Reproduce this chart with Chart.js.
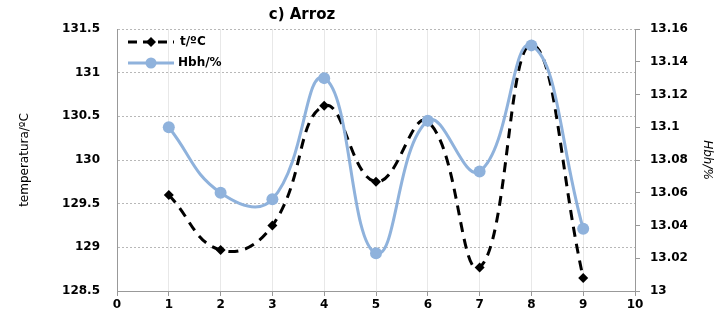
<!DOCTYPE html>
<html>
<head>
<meta charset="utf-8">
<script src="https://cdn.jsdelivr.net/npm/chart.js@4/dist/chart.umd.min.js"></script>
<style>
  html, body { margin: 0; padding: 0; background: #fff; }
  #wrap { width: 722px; height: 325px; }
</style>
</head>
<body>
<div id="wrap"><canvas id="myChart" width="722" height="325"></canvas></div>
<script>
  // sample numbers along the x axis
  var samples = [1, 2, 3, 4, 5, 6, 7, 8, 9];
  // temperature, left axis
  var tempValues = [129.6, 128.97, 129.25, 130.62, 129.75, 130.44, 128.77, 131.32, 128.65];
  // moisture, right axis
  var hbhValues = [13.100, 13.060, 13.056, 13.130, 13.023, 13.104, 13.073, 13.150, 13.038];

  var seriesNames = ["t/ºC", "Hbh/%"];
  var titleText = "c) Arroz";
  var blue = "#8fb2dc";
  var tickFont = { family: "DejaVu Sans", size: 12, weight: "bold" };

  function toPoints(xs, ys) {
    return xs.map(function (x, i) { return { x: x, y: ys[i] }; });
  }

  // excel style labels: 131 not 131.0, 13.1 not 13.10
  function plainNumber(value) {
    return String(parseFloat(value.toFixed(4)));
  }

  // title and in-plot legend, drawn the way the spreadsheet had them
  var decorPlugin = {
    id: "decor",
    afterDraw: function (chart) {
      var ctx = chart.ctx;
      var area = chart.chartArea;
      ctx.save();
      ctx.fillStyle = "#000";
      ctx.font = "bold 15px 'DejaVu Sans'";
      ctx.textAlign = "center";
      ctx.textBaseline = "middle";
      ctx.fillText(titleText, area.left + 185, 15);

      ctx.font = "bold 12px 'DejaVu Sans'";
      ctx.textAlign = "left";
      var lx = area.left + 11, ly = area.top + 13;
      // t/ºC sample
      ctx.strokeStyle = "#000";
      ctx.lineWidth = 3;
      ctx.setLineDash([9, 6]);
      ctx.beginPath();
      ctx.moveTo(lx, ly);
      ctx.lineTo(lx + 46, ly);
      ctx.stroke();
      ctx.setLineDash([]);
      ctx.beginPath();
      ctx.moveTo(lx + 23, ly - 5);
      ctx.lineTo(lx + 28, ly);
      ctx.lineTo(lx + 23, ly + 5);
      ctx.lineTo(lx + 18, ly);
      ctx.closePath();
      ctx.fillStyle = "#000";
      ctx.fill();
      ctx.fillText(seriesNames[0], lx + 52, ly);
      // Hbh/% sample
      ly += 21;
      ctx.strokeStyle = blue;
      ctx.beginPath();
      ctx.moveTo(lx, ly);
      ctx.lineTo(lx + 46, ly);
      ctx.stroke();
      ctx.beginPath();
      ctx.arc(lx + 23, ly, 5.5, 0, Math.PI * 2);
      ctx.fillStyle = blue;
      ctx.fill();
      ctx.fillStyle = "#000";
      ctx.fillText(seriesNames[1], lx + 50, ly);
      ctx.restore();
    }
  };

  var ctx = document.getElementById("myChart").getContext("2d");
  var myChart = new Chart(ctx, {
    type: "line",
    data: {
      datasets: [
        {
          label: seriesNames[0],
          data: toPoints(samples, tempValues),
          yAxisID: "y",
          borderColor: "#000",
          backgroundColor: "#000",
          borderWidth: 3,
          borderDash: [10, 7],
          pointStyle: "rectRot",
          pointRadius: 5,
          pointBorderWidth: 0,
          tension: 0.45,
          order: 1
        },
        {
          label: seriesNames[1],
          data: toPoints(samples, hbhValues),
          yAxisID: "y2",
          borderColor: blue,
          backgroundColor: blue,
          borderWidth: 3,
          pointStyle: "circle",
          pointRadius: 6,
          pointBorderWidth: 0,
          tension: 0.45,
          order: 0
        }
      ]
    },
    options: {
      responsive: false,
      animation: false,
      layout: { padding: { top: 29, left: 0, right: 0, bottom: 0 } },
      plugins: {
        legend: { display: false },
        tooltip: { enabled: false }
      },
      scales: {
        x: {
          type: "linear",
          min: 0,
          max: 10,
          ticks: { stepSize: 1, color: "#000", font: tickFont, padding: 2 },
          grid: { color: "#e8e8e8", lineWidth: 1, tickLength: 5, tickColor: "#999" },
          border: { color: "#999", width: 1 },
          afterFit: function (s) { s.height = 34; }
        },
        y: {
          position: "left",
          min: 128.5,
          max: 131.5,
          ticks: { stepSize: 0.5, color: "#000", font: tickFont, padding: 17, callback: plainNumber },
          grid: { color: "#b8b8b8", lineWidth: 1, tickLength: 0 },
          border: { color: "#999", width: 1, dash: [2, 2] },
          title: { display: true, text: "temperatura/ºC", color: "#000", font: { family: "DejaVu Sans", size: 12 }, padding: { top: 18, bottom: 0 } },
          afterFit: function (s) { s.width = 117; }
        },
        y2: {
          position: "right",
          min: 13,
          max: 13.16,
          ticks: { stepSize: 0.02, color: "#000", font: tickFont, padding: 10, callback: plainNumber },
          grid: { drawOnChartArea: false, tickLength: 5, tickColor: "#999" },
          border: { color: "#999", width: 1 },
          title: { display: true, text: "Hbh/%", color: "#000", font: { family: "DejaVu Sans", size: 12, style: "italic" }, padding: { top: 8, bottom: 0 } },
          afterFit: function (s) { s.width = 87; }
        }
      }
    },
    plugins: [decorPlugin]
  });
</script>
</body>
</html>
